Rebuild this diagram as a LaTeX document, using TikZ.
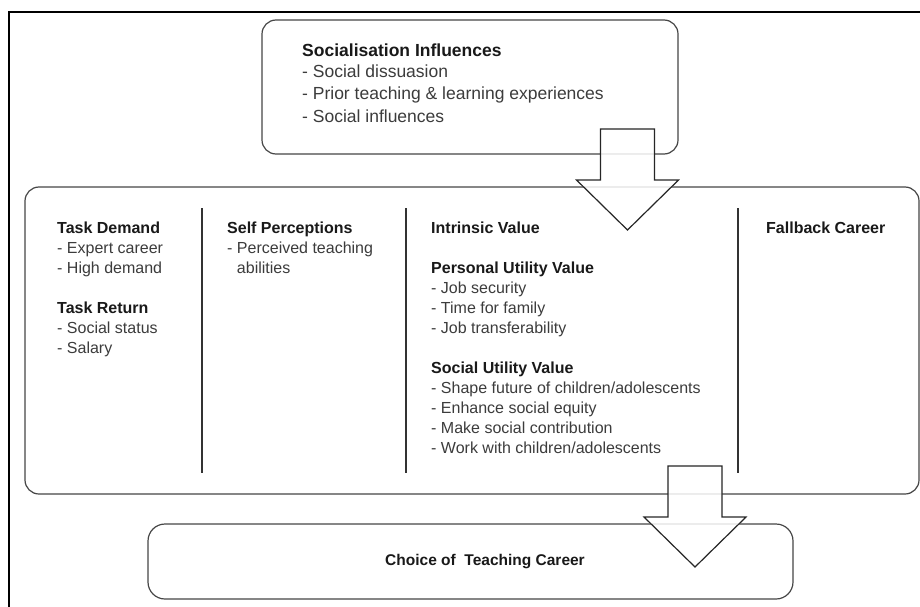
\documentclass[tikz,border=0pt]{standalone}
\usepackage{fontspec}
\setmainfont{Liberation Sans}
\usetikzlibrary{positioning}
\tikzstyle{diagram} = [x = 1pt, y = -1pt]
\definecolor{lineColor}{RGB}{70,70,70}
\definecolor{headColor}{RGB}{25,25,25}
\definecolor{itemColor}{RGB}{60,60,60}
\tikzstyle{roundBox} = [draw=lineColor, line width=1.2pt, rounded corners=14pt, fill=white, inner sep=0pt]
\tikzstyle{columnLine} = [draw=black!80, line width=1.3pt]
\tikzstyle{frameLine} = [draw=black, line width=2pt]
% base west = baseline of the last line
\tikzstyle{bigText} = [anchor=base west, align=left, inner sep=0pt, font=\fontsize{17.5}{22}\selectfont, text=itemColor]
\tikzstyle{columnText} = [anchor=base west, align=left, inner sep=0pt, font=\fontsize{16}{20}\selectfont, text=itemColor]
\tikzstyle{arrowStyle} = [draw=black!85, line width=1.2pt, fill=white, fill opacity=.85]
\newcommand{\heading}[1]{\textcolor{headColor}{\textbf{#1}}}
\newcommand{\shaftHalf}{27}
\newcommand{\headHalf}{51}
\newcommand{\blockArrow}[2]{\draw [arrowStyle] (#1 - \shaftHalf, #2) -- ++(54, 0) -- ++(0, 51) -- ++(24, 0) -- (#1, #2 + 101) -- (#1 - \headHalf, #2 + 51) -- ++(24, 0) -- cycle;}

\begin{document}
\begin{tikzpicture}[diagram]
  \useasboundingbox (0,0) rectangle (920,607);
  \draw [frameLine] (9,607) -- (9,12) -- (920,12);

  % boxes
  \node [roundBox, minimum width=416pt, minimum height=134pt] (influences) at (470,87) {};
  \node [roundBox, minimum width=894pt, minimum height=307pt] (motivations) at (472,340.5) {};
  \node [roundBox, minimum width=645pt, minimum height=75pt, rounded corners=17pt] (choice) at (470.5,561.5) {};
  \foreach \x in {202,406,738} {
    \draw [columnLine] (\x,208) -- (\x,473);
  }

  % texts
  \node [bigText] (influenceText) at (302,122) {\heading{Socialisation Influences}\\- Social dissuasion\\- Prior teaching \& learning experiences\\- Social influences};
  \node [columnText] (taskText) at (57,353) {\heading{Task Demand}\\- Expert career\\- High demand\\[20pt]\heading{Task Return}\\- Social status\\- Salary};
  \node [columnText] (selfText) at (227,273) {\heading{Self Perceptions}\\- Perceived teaching\\\phantom{- }abilities};
  \node [columnText] (valueText) at (431,453) {\heading{Intrinsic Value}\\[20pt]\heading{Personal Utility Value}\\- Job security\\- Time for family\\- Job transferability\\[20pt]\heading{Social Utility Value}\\- Shape future of children/adolescents\\- Enhance social equity\\- Make social contribution\\- Work with children/adolescents};
  \node [columnText] (fallbackText) at (766,233) {\heading{Fallback Career}};
  \node [font=\bfseries\fontsize{15.5}{20}\selectfont, text=headColor, inner sep=0pt] (choiceText) at ([xshift=14.5pt]choice.center) {Choice of \ Teaching Career};

  % arrows
  \blockArrow{627.5}{129}
  \blockArrow{695}{466}
\end{tikzpicture}
\end{document}
